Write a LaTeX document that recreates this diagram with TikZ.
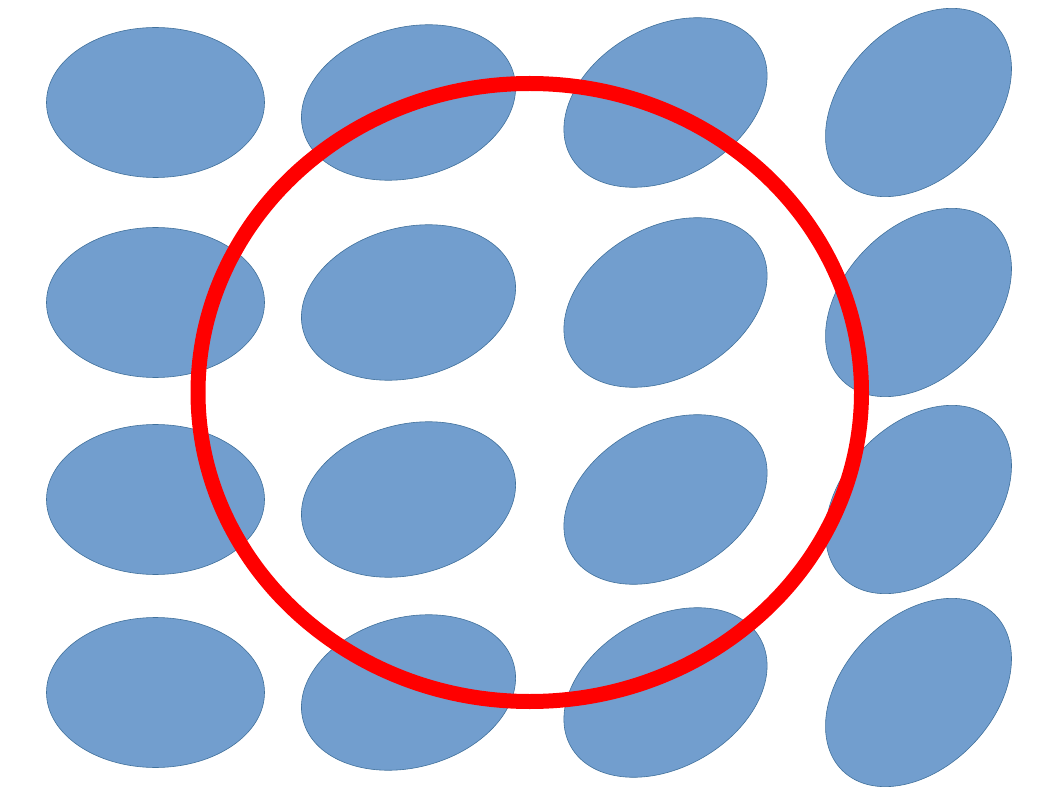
\documentclass[tikz,border=0pt]{standalone}
\begin{document}
\begin{tikzpicture}[x=1pt,y=-1pt,
  blob/.style={fill={rgb,255:red,114;green,158;blue,206}, draw={rgb,255:red,65;green,113;blue,156}, line width=0.6pt},
  ring/.style={draw={rgb,255:red,255;green,0;blue,0}, line width=15pt}]
\useasboundingbox (0,0) rectangle (1058,794);
\fill[white] (0,0) rectangle (1058,794);
\foreach \cx/\ang in {155.5/0, 408.5/15, 665.5/30, 918.5/46}{
  \foreach \cy in {102.5, 302.5, 499.5, 692.5}{
    \path[blob, rotate around={\ang:(\cx,\cy)}] (\cx,\cy) ellipse [x radius=109, y radius=75];
  }
}
\coordinate (c) at (529.75,392.5);
\draw[ring] (c) ellipse [x radius=331.75, y radius=309];
\end{tikzpicture}
\end{document}
